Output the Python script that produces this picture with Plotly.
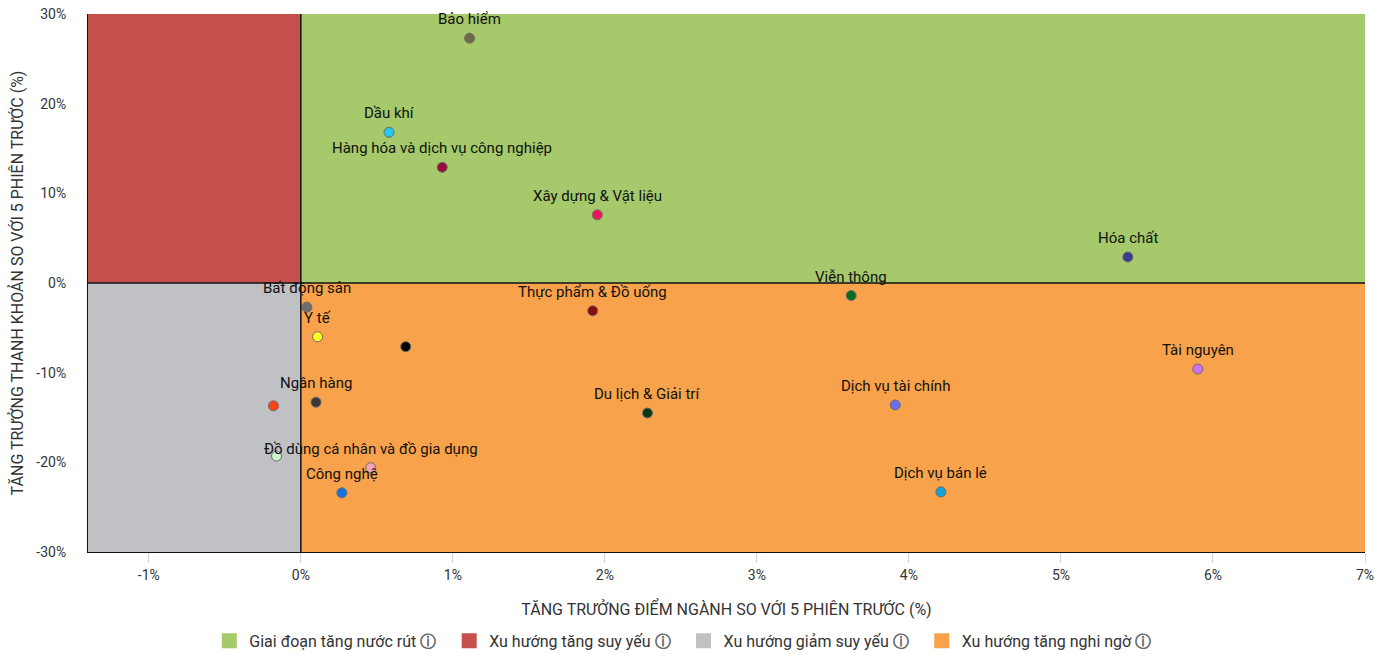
import plotly.graph_objects as go

# ---- data ----
sectors = [
    "Bảo hiểm", "Dầu khí", "Hàng hóa và dịch vụ công nghiệp", "Xây dựng & Vật liệu",
    "Hóa chất", "Viễn thông", "Bất động sản", "Thực phẩm & Đồ uống", "Y tế", "",
    "Tài nguyên", "Ngân hàng", "", "Du lịch & Giải trí", "Dịch vụ tài chính",
    "", "Đồ dùng cá nhân và đồ gia dụng", "Công nghệ", "Dịch vụ bán lẻ",
]
price_growth = [1.11, 0.58, 0.93, 1.95, 5.44, 3.62, 0.04, 1.92, 0.11, 0.69,
                5.90, 0.10, -0.18, 2.28, 3.91, -0.16, 0.46, 0.27, 4.21]
liquidity_growth = [27.3, 16.8, 12.9, 7.6, 2.9, -1.4, -2.7, -3.1, -6.0, -7.1,
                    -9.6, -13.3, -13.7, -14.5, -13.6, -19.3, -20.6, -23.4, -23.3]
point_colors = ["#6f6a45", "#22c7f2", "#9a0c3c", "#f2145c", "#3b3b90", "#0b6b1c",
                "#6e6e6e", "#8a0b0b", "#ffff22", "#050505", "#cf72f2", "#3a3a3a",
                "#ff4412", "#063b12", "#6b6cf0", "#c9f5c9", "#f5a3b2", "#1a72e0", "#10a2d8"]

quadrant_names = ["Giai đoạn tăng nước rút", "Xu hướng tăng suy yếu",
                  "Xu hướng giảm suy yếu", "Xu hướng tăng nghi ngờ"]
quadrant_colors = ["#a5c96b", "#c5504c", "#c0c1c5", "#f8a34b"]

x_range = [-1.4, 7.0]
y_range = [-30, 30]
x_ticks = [-1, 0, 1, 2, 3, 4, 5, 6, 7]
y_ticks = [-30, -20, -10, 0, 10, 20, 30]

FONT = "Roboto, Arial, sans-serif"

fig = go.Figure()

quad_bounds = [
    (0, x_range[1], 0, y_range[1]),
    (x_range[0], 0, 0, y_range[1]),
    (x_range[0], 0, y_range[0], 0),
    (0, x_range[1], y_range[0], 0),
]
for (x0, x1, y0, y1), col in zip(quad_bounds, quadrant_colors):
    fig.add_shape(type="rect", xref="x", yref="y", x0=x0, x1=x1, y0=y0, y1=y1,
                  fillcolor=col, line=dict(width=0), layer="below")
fig.add_shape(type="line", xref="x", yref="y", x0=0, x1=0, y0=y_range[0], y1=y_range[1],
              line=dict(color="#111111", width=1.5))
fig.add_shape(type="line", xref="x", yref="y", x0=x_range[0], x1=x_range[1], y0=0, y1=0,
              line=dict(color="#111111", width=1.5))

fig.add_trace(go.Scatter(
    x=price_growth, y=liquidity_growth, mode="markers",
    marker=dict(size=10, color=point_colors, line=dict(color="#6b6b6b", width=1)),
    text=sectors, hoverinfo="text", showlegend=False, cliponaxis=False,
))

for name, xv, yv in zip(sectors, price_growth, liquidity_growth):
    if name:
        fig.add_annotation(x=xv, y=yv, text=name, showarrow=False, yshift=19,
                           font=dict(family=FONT, size=15, color="#111111"))

for name, col in zip(quadrant_names, quadrant_colors):
    fig.add_trace(go.Scatter(
        x=[None], y=[None], mode="markers",
        name=name + " <span style='color:#666666'><b>ⓘ</b></span>\u00a0\u00a0",
        marker=dict(symbol="square", size=15, color=col),
    ))

fig.update_layout(
    width=1375, height=654,
    margin=dict(l=88, r=10, t=14, b=102),
    paper_bgcolor="white", plot_bgcolor="white",
    font=dict(family=FONT, size=14, color="#333333"),
    legend=dict(orientation="h", xref="container", yref="container",
                x=0.4995, xanchor="center", y=0.02, yanchor="middle",
                font=dict(family=FONT, size=16, color="#333333"),
                itemwidth=30, traceorder="normal"),
    xaxis=dict(range=x_range, tickvals=x_ticks, ticktext=[f"{v}%" for v in x_ticks],
               showgrid=False, zeroline=False, showline=True, linecolor="#111111", linewidth=1,
               ticks="outside", ticklen=10, tickcolor="#ccd6eb", automargin=False,
               ticklabeloverflow="allow",
               tickfont=dict(size=14, color="#333333"),
               title=dict(text="TĂNG TRƯỞNG ĐIỂM NGÀNH SO VỚI 5 PHIÊN TRƯỚC (%)",
                          font=dict(size=16, color="#333333"), standoff=22)),
    yaxis=dict(range=y_range, tickvals=y_ticks, ticktext=[f"{v}%" for v in y_ticks],
               showgrid=False, zeroline=False, showline=True, linecolor="#111111", linewidth=1,
               ticks="", ticklabelstandoff=18, automargin=False,
               ticklabeloverflow="allow",
               tickfont=dict(size=14, color="#333333"),
               title=dict(text="TĂNG TRƯỞNG THANH KHOẢN SO VỚI 5 PHIÊN TRƯỚC (%)",
                          font=dict(size=16, color="#333333"), standoff=8)),
)

fig.write_html("out.html", config={"displayModeBar": False},
               post_script="document.body.style.margin='0';document.body.style.overflow='hidden';")
